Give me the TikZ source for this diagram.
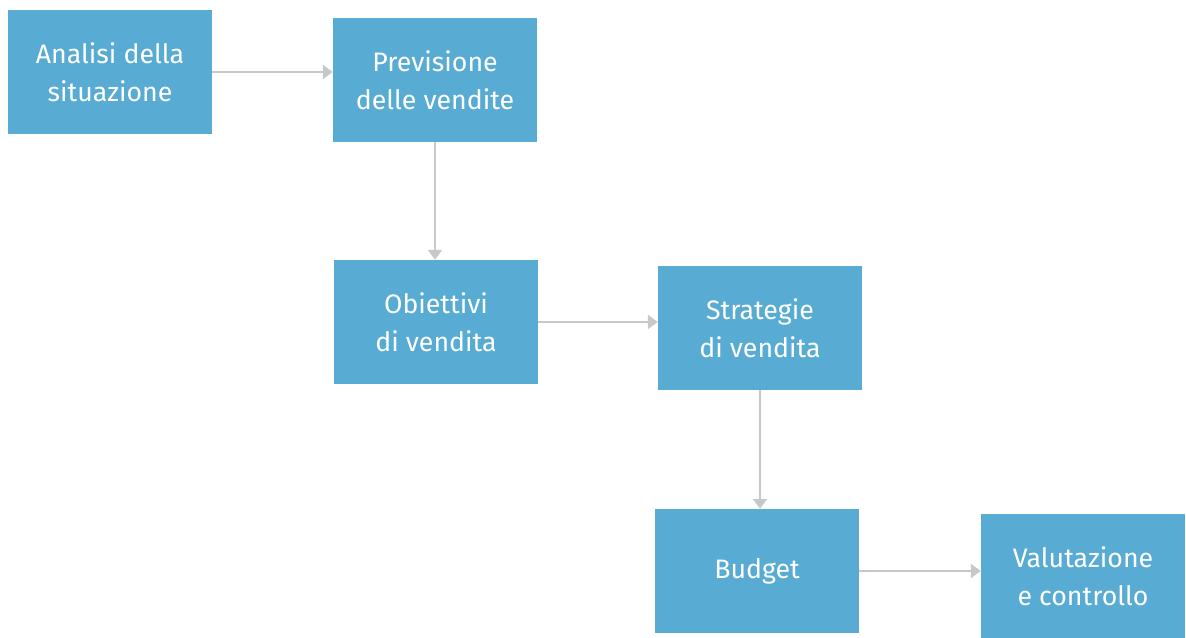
\documentclass[tikz,border=0pt]{standalone}
\usepackage{fontspec}
\setmainfont{Fira Sans}
\usetikzlibrary{arrows.meta, positioning}
\definecolor{stageblue}{RGB}{88, 171, 211}
\definecolor{arrowgray}{RGB}{200, 200, 200}

\begin{document}
\begin{tikzpicture}[
    stage/.style={rectangle, draw=none, fill=stageblue, minimum width=5.1cm, minimum height=3.1cm, align=center, text=white, font=\fontsize{19}{27}\selectfont},
    arrow/.style={-{Triangle[width=10pt, length=7pt]}, line width=1.4pt, arrowgray}
]
    \useasboundingbox (0,0) rectangle (29.65,15.925);
    \node[stage] (analisi) at (2.75,14.125) {Analisi della\\situazione};
    \node[stage] (previsione) at (10.875,13.925) {Previsione\\delle vendite};
    \node[stage] (obiettivi) at (10.9,7.875) {Obiettivi\\di vendita};
    \node[stage] (strategie) at (19.0,7.725) {Strategie\\di vendita};
    \node[stage] (budget) at (18.925,1.65) {Budget};
    \node[stage] (valutazione) at (27.075,1.525) {Valutazione\\e controllo};
    
    \draw[arrow] (analisi.east) -- (analisi.east -| previsione.west);
    \draw[arrow] (previsione.south) -- (previsione.south |- obiettivi.north);
    \draw[arrow] (obiettivi.east) -- (obiettivi.east -| strategie.west);
    \draw[arrow] (strategie.south) -- (strategie.south |- budget.north);
    \draw[arrow] (budget.east) -- (budget.east -| valutazione.west);
\end{tikzpicture}
\end{document}
